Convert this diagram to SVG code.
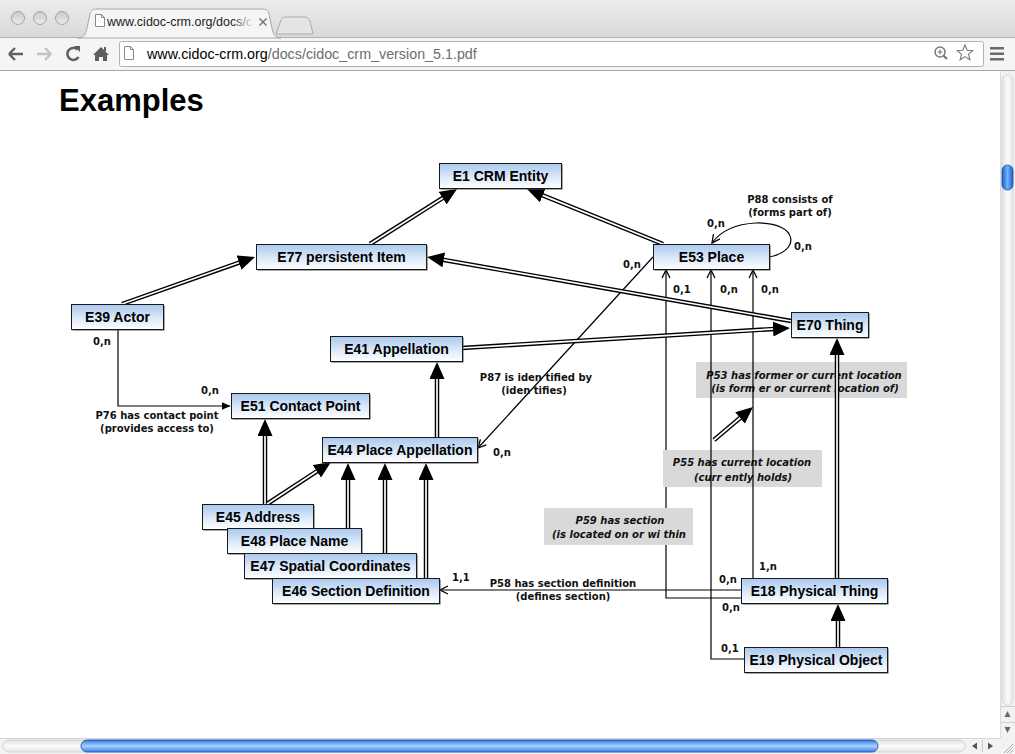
<svg xmlns="http://www.w3.org/2000/svg" width="1015" height="754" viewBox="0 0 1015 754">
<defs>
<style>
.nb{fill:url(#ng);stroke:#1a1a1a;stroke-width:1}
.ns{fill:#4a4a4a}
.nt{font-family:"Liberation Sans",Arial,sans-serif;font-weight:bold;font-size:14px;text-anchor:middle;fill:#000}
.lb{font-family:"DejaVu Sans",Verdana,sans-serif;font-weight:bold;font-size:10px;fill:#111}
.lc{font-family:"DejaVu Sans",Verdana,sans-serif;font-weight:bold;font-size:10px;fill:#111;text-anchor:middle}
.li{font-family:"DejaVu Sans",Verdana,sans-serif;font-weight:bold;font-style:italic;font-size:10px;fill:#111;text-anchor:middle}
.gb{fill:#d9d9d9}
.dbo{stroke:#000;stroke-width:4.5;fill:none}
.dbi{stroke:#fff;stroke-width:1.7;fill:none;marker-end:url(#tri)}
.th{stroke:#000;stroke-width:1.2;fill:none;marker-end:url(#chev)}
.ui{font-family:"Liberation Sans",Arial,sans-serif}
</style>
<linearGradient id="ng" x1="0" y1="0" x2="0" y2="1">
<stop offset="0" stop-color="#a9c8ee"/><stop offset="0.55" stop-color="#dce9f8"/><stop offset="1" stop-color="#ffffff"/>
</linearGradient>
<linearGradient id="tabbar" x1="0" y1="0" x2="0" y2="1">
<stop offset="0" stop-color="#ececec"/><stop offset="1" stop-color="#d9d9d9"/>
</linearGradient>
<linearGradient id="tl" x1="0" y1="0" x2="0" y2="1">
<stop offset="0" stop-color="#c9c9c9"/><stop offset="1" stop-color="#ececec"/>
</linearGradient>
<linearGradient id="vth" x1="0" y1="0" x2="1" y2="0">
<stop offset="0" stop-color="#1b5ec7"/><stop offset="0.5" stop-color="#6fb2ff"/><stop offset="1" stop-color="#1b5ec7"/>
</linearGradient>
<linearGradient id="hth" x1="0" y1="0" x2="0" y2="1">
<stop offset="0" stop-color="#2f74db"/><stop offset="0.5" stop-color="#a7d2ff"/><stop offset="1" stop-color="#3b82e6"/>
</linearGradient>
<linearGradient id="trk" x1="0" y1="0" x2="0" y2="1">
<stop offset="0" stop-color="#e2e2e2"/><stop offset="0.5" stop-color="#fafafa"/><stop offset="1" stop-color="#e6e6e6"/>
</linearGradient>
<linearGradient id="vtrk" x1="0" y1="0" x2="1" y2="0">
<stop offset="0" stop-color="#e2e2e2"/><stop offset="0.5" stop-color="#fafafa"/><stop offset="1" stop-color="#e6e6e6"/>
</linearGradient>
<linearGradient id="fade" x1="0" y1="0" x2="1" y2="0">
<stop offset="0" stop-color="#f5f5f5" stop-opacity="0"/><stop offset="1" stop-color="#f5f5f5" stop-opacity="1"/>
</linearGradient>
<marker id="tri" markerUnits="userSpaceOnUse" markerWidth="17" markerHeight="15" viewBox="0 0 17 15" refX="10" refY="7.5" orient="auto">
<path d="M0,0 L17,7.5 L0,15 z" fill="#000"/>
</marker>
<marker id="chev" markerUnits="userSpaceOnUse" markerWidth="10" markerHeight="10" viewBox="0 0 10 10" refX="9" refY="5" orient="auto">
<path d="M1,1 L9,5 L1,9" fill="none" stroke="#000" stroke-width="1.3"/>
</marker>
<marker id="stri" markerUnits="userSpaceOnUse" markerWidth="9" markerHeight="8" viewBox="0 0 9 8" refX="8.5" refY="4" orient="auto">
<path d="M0,0 L9,4 L0,8 z" fill="#000"/>
</marker>
</defs>

<!-- browser chrome -->
<g id="chrome">
<rect x="0" y="0" width="1015" height="37" fill="url(#tabbar)"/>
<rect x="0" y="37" width="1015" height="34" fill="#f5f5f5"/>
<line x1="0" y1="37.5" x2="1015" y2="37.5" stroke="#b0b0b0"/>
<line x1="0" y1="70.5" x2="1015" y2="70.5" stroke="#a9a9a9"/>
<circle cx="18" cy="18" r="6.5" fill="url(#tl)" stroke="#a3a3a3"/>
<circle cx="40" cy="18" r="6.5" fill="url(#tl)" stroke="#a3a3a3"/>
<circle cx="62" cy="18" r="6.5" fill="url(#tl)" stroke="#a3a3a3"/>
<path d="M78,38 C84,38 86,34 87,28 L90,14 C91,10 93,9 97,9 L262,9 C266,9 268,10 269,14 L272,28 C273,34 275,38 281,38 Z" fill="#f5f5f5" stroke="#a8a8a8"/>
<path d="M276,34 L281,20 C282,18 283,17 286,17 L304,17 C307,17 309,18 310,21 L313,34 Z" fill="#e4e4e4" stroke="#ababab"/>
<path d="M95.5,14.5 L101.5,14.5 L104.5,17.5 L104.5,26.5 L95.5,26.5 Z M101.5,14.5 L101.5,17.5 L104.5,17.5" fill="#fff" stroke="#8a8a8a" stroke-width="1"/>
<text x="107" y="26" class="ui" font-size="12.5" fill="#222">www.cidoc-crm.org/docs/c</text>
<rect x="232" y="12" width="22" height="20" fill="url(#fade)"/>
<path d="M259.5,18.5 L266.5,25.5 M266.5,18.5 L259.5,25.5" stroke="#6e6e6e" stroke-width="1.4"/>
<!-- nav icons -->
<path d="M9,54 L23,54 M9,54 L15,48 M9,54 L15,60" stroke="#5f5f5f" stroke-width="2.4" fill="none"/>
<path d="M37,54 L51,54 M51,54 L45,48 M51,54 L45,60" stroke="#c2c2c2" stroke-width="2.4" fill="none"/>
<path d="M77.5,49.5 A6,6 0 1 0 78.5,57" stroke="#5f5f5f" stroke-width="2.5" fill="none"/>
<path d="M74,46 L80,46 L80,52 Z" fill="#5f5f5f"/>
<path d="M93,55 L101,47 L109,55 L107,55 L107,61 L103,61 L103,57 L99,57 L99,61 L95,61 L95,55 Z" fill="#5f5f5f"/>
<rect x="104" y="47" width="2" height="4" fill="#5f5f5f"/>
<rect x="119.5" y="41.5" width="864" height="25" rx="2" fill="#fff" stroke="#b3b3b3"/>
<path d="M124.5,46.5 L130.5,46.5 L133.5,49.5 L133.5,59.5 L124.5,59.5 Z M130.5,46.5 L130.5,49.5 L133.5,49.5" fill="#fff" stroke="#8a8a8a"/>
<text x="147" y="59" class="ui" font-size="14.3"><tspan fill="#000">www.cidoc-crm.org</tspan><tspan fill="#6d6d6d">/docs/cidoc_crm_version_5.1.pdf</tspan></text>
<circle cx="940" cy="52" r="5" fill="none" stroke="#7a7a7a" stroke-width="1.5"/>
<path d="M937.5,52 L942.5,52 M940,49.5 L940,54.5" stroke="#7a7a7a" stroke-width="1.2"/>
<path d="M943.5,55.5 L947,59" stroke="#7a7a7a" stroke-width="2.2"/>
<path d="M965,45 L967.2,50.3 L972.8,50.6 L968.5,54.2 L969.9,59.8 L965,56.6 L960.1,59.8 L961.5,54.2 L957.2,50.6 L962.8,50.3 Z" fill="none" stroke="#7a7a7a" stroke-width="1.1"/>
<rect x="990" y="47" width="14" height="2.5" fill="#6a6a6a"/>
<rect x="990" y="52.5" width="14" height="2.5" fill="#6a6a6a"/>
<rect x="990" y="58" width="14" height="2.5" fill="#6a6a6a"/>
<!-- content -->
<rect x="0" y="71" width="1000" height="667" fill="#fff"/>
<!-- vertical scrollbar -->
<rect x="1000" y="71" width="15" height="667" fill="#f2f2f2"/>
<line x1="1000.5" y1="71" x2="1000.5" y2="738" stroke="#dcdcdc"/>
<rect x="1002" y="75" width="11" height="630" rx="5.5" fill="url(#vtrk)" stroke="#d2d2d2" stroke-width="0.8"/>
<rect x="1002" y="165" width="11" height="25" rx="5.5" fill="url(#vth)" stroke="#164fa8" stroke-width="0.8"/>
<line x1="1000" y1="706.5" x2="1015" y2="706.5" stroke="#d0d0d0"/>
<line x1="1000" y1="722.5" x2="1015" y2="722.5" stroke="#d0d0d0"/>
<path d="M1004.5,717 L1007.5,711 L1010.5,717 Z" fill="#666"/>
<path d="M1004.5,727 L1007.5,733 L1010.5,727 Z" fill="#666"/>
<!-- horizontal scrollbar -->
<rect x="0" y="738" width="1015" height="16" fill="#f2f2f2"/>
<line x1="0" y1="738.5" x2="1000" y2="738.5" stroke="#d6d6d6"/>
<rect x="3" y="740" width="962" height="12" rx="6" fill="url(#trk)" stroke="#cfcfcf" stroke-width="0.8"/>
<rect x="81" y="740" width="797" height="12" rx="6" fill="url(#hth)" stroke="#1f57b8" stroke-width="0.9"/>
<path d="M972,746 L977,742.5 L977,749.5 Z" fill="#555"/>
<path d="M988,742.5 L993,746 L988,749.5 Z" fill="#555"/>
<line x1="982.5" y1="740" x2="982.5" y2="752" stroke="#c8c8c8"/>
<path d="M1004,753 L1013,744 M1007,753 L1013,747 M1010,753 L1013,750" stroke="#9a9a9a" stroke-width="0.8"/>
</g>

<text x="59" y="111" font-family="Liberation Sans, Arial, sans-serif" font-weight="bold" font-size="31">Examples</text>

<g id="connectors">
<!-- thin line hidden by gray labels -->
<path class="th" d="M741,598 L666,598 L666,270"/>
<rect class="gb" x="696" y="362" width="211" height="36"/>
<rect class="gb" x="663" y="450" width="159" height="37"/>
<rect class="gb" x="544" y="508" width="149" height="37"/>
<text class="li" x="804" y="379">P53 has former or current location</text>
<text class="li" x="805" y="392">(is form er or current location of)</text>
<text class="li" x="742" y="466">P55 has current location</text>
<text class="li" x="743" y="481">(curr ently holds)</text>
<text class="li" x="620" y="524">P59 has section</text>
<text class="li" x="619" y="538">(is located on or wi thin</text>

<path class="th" d="M744,659 L711,659 L711,270"/>
<path class="th" d="M753,578 L753,270"/>
<path class="th" d="M741,590 L440,590"/>
<path class="th" d="M653,257 L478,448"/>
<path class="th" d="M769,257 C800,252 800,222 756,223 C735,224 720,232 712,243"/>
<path d="M118,329 L118,406 L230,406" stroke="#000" stroke-width="1.2" fill="none" marker-end="url(#stri)"/>

<!-- double-line (is-a) arrows -->
<path class="dbo" d="M370,244 L451.1,192.7"/><path class="dbi" d="M370,244 L451.1,192.7"/>
<path class="dbo" d="M663,244 L533.5,191.6"/><path class="dbi" d="M663,244 L533.5,191.6"/>
<path class="dbo" d="M122,304 L248.4,259.3"/><path class="dbi" d="M122,304 L248.4,259.3"/>
<path class="dbo" d="M791,321 L433.9,258.2"/><path class="dbi" d="M791,321 L433.9,258.2"/>
<path class="dbo" d="M462,348 L783,328.4"/><path class="dbi" d="M462,348 L783,328.4"/>
<path class="dbo" d="M437,437 L437,369"/><path class="dbi" d="M437,437 L437,369"/>
<path class="dbo" d="M265,504 L265,426"/><path class="dbi" d="M265,504 L265,426"/>
<path class="dbo" d="M267,504 L325.2,465.8"/><path class="dbi" d="M267,504 L325.2,465.8"/>
<path class="dbo" d="M348,528 L348,470"/><path class="dbi" d="M348,528 L348,470"/>
<path class="dbo" d="M385,553 L385,470"/><path class="dbi" d="M385,553 L385,470"/>
<path class="dbo" d="M426,578 L426,470"/><path class="dbi" d="M426,578 L426,470"/>
<path class="dbo" d="M837,578 L837,345"/><path class="dbi" d="M837,578 L837,345"/>
<path class="dbo" d="M838,647 L838,611"/><path class="dbi" d="M838,647 L838,611"/>
<path class="dbo" d="M714,440 L747.7,411.5"/><path class="dbi" d="M714,440 L747.7,411.5"/>

<!-- labels -->
<text class="lb" x="93" y="345">0,n</text>
<text class="lb" x="201" y="394">0,n</text>
<text class="lc" x="157" y="419">P76 has contact point</text>
<text class="lc" x="157" y="432">(provides access to)</text>
<text class="lc" x="790" y="203">P88 consists of</text>
<text class="lc" x="790" y="216">(forms part of)</text>
<text class="lb" x="707" y="227">0,n</text>
<text class="lb" x="794" y="250">0,n</text>
<text class="lb" x="623" y="268">0,n</text>
<text class="lb" x="673" y="293">0,1</text>
<text class="lb" x="720" y="293">0,n</text>
<text class="lb" x="761" y="293">0,n</text>
<text class="lc" x="536" y="381">P87 is iden tified by</text>
<text class="lc" x="534" y="394">(iden tifies)</text>
<text class="lb" x="493" y="456">0,n</text>
<text class="lb" x="452" y="581">1,1</text>
<text class="lc" x="563" y="587">P58 has section definition</text>
<text class="lc" x="563" y="600">(defines section)</text>
<text class="lb" x="719" y="583">0,n</text>
<text class="lb" x="759" y="570">1,n</text>
<text class="lb" x="722" y="611">0,n</text>
<text class="lb" x="721" y="652">0,1</text>
</g>

<g id="nodes">
<g id="E1"><rect class="ns" x="440.5" y="164.5" width="122" height="25"/><rect class="nb" x="439.5" y="163.5" width="122" height="25"/><text class="nt" x="500.5" y="181">E1 CRM Entity</text></g>
<g id="E77"><rect class="ns" x="257.5" y="245.5" width="170" height="25"/><rect class="nb" x="256.5" y="244.5" width="170" height="25"/><text class="nt" x="341.5" y="262">E77 persistent Item</text></g>
<g id="E53"><rect class="ns" x="654.5" y="245.5" width="116" height="25"/><rect class="nb" x="653.5" y="244.5" width="116" height="25"/><text class="nt" x="711.5" y="262">E53 Place</text></g>
<g id="E39"><rect class="ns" x="72.5" y="305.5" width="92" height="25"/><rect class="nb" x="71.5" y="304.5" width="92" height="25"/><text class="nt" x="117.5" y="322">E39 Actor</text></g>
<g id="E70"><rect class="ns" x="792.5" y="313.5" width="77" height="25"/><rect class="nb" x="791.5" y="312.5" width="77" height="25"/><text class="nt" x="830" y="330">E70 Thing</text></g>
<g id="E41"><rect class="ns" x="331.5" y="337.5" width="132" height="25"/><rect class="nb" x="330.5" y="336.5" width="132" height="25"/><text class="nt" x="396.5" y="354">E41 Appellation</text></g>
<g id="E51"><rect class="ns" x="232.5" y="394.5" width="138" height="25"/><rect class="nb" x="231.5" y="393.5" width="138" height="25"/><text class="nt" x="300.5" y="411">E51 Contact Point</text></g>
<g id="E44"><rect class="ns" x="323.5" y="438.5" width="155" height="25"/><rect class="nb" x="322.5" y="437.5" width="155" height="25"/><text class="nt" x="400" y="455">E44 Place Appellation</text></g>
<g id="E45"><rect class="ns" x="203.5" y="505.5" width="111" height="25"/><rect class="nb" x="202.5" y="504.5" width="111" height="25"/><text class="nt" x="258" y="522">E45 Address</text></g>
<g id="E48"><rect class="ns" x="228.5" y="529.5" width="134" height="25"/><rect class="nb" x="227.5" y="528.5" width="134" height="25"/><text class="nt" x="294.5" y="546">E48 Place Name</text></g>
<g id="E47"><rect class="ns" x="245.5" y="554.5" width="172" height="25"/><rect class="nb" x="244.5" y="553.5" width="172" height="25"/><text class="nt" x="330.5" y="571">E47 Spatial Coordinates</text></g>
<g id="E46"><rect class="ns" x="273.5" y="579.5" width="167" height="25"/><rect class="nb" x="272.5" y="578.5" width="167" height="25"/><text class="nt" x="356" y="596">E46 Section Definition</text></g>
<g id="E18"><rect class="ns" x="742.5" y="579.5" width="146" height="25"/><rect class="nb" x="741.5" y="578.5" width="146" height="25"/><text class="nt" x="814.5" y="596">E18 Physical Thing</text></g>
<g id="E19"><rect class="ns" x="745.5" y="648.5" width="143" height="25"/><rect class="nb" x="744.5" y="647.5" width="143" height="25"/><text class="nt" x="816" y="665">E19 Physical Object</text></g>
</g>
</svg>
